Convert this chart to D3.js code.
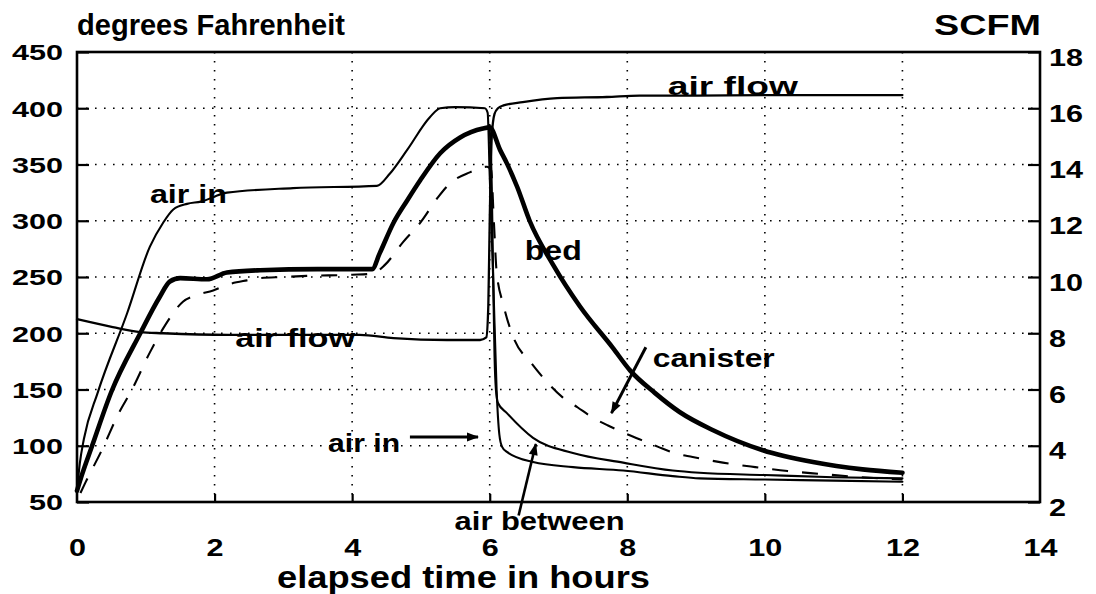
<!DOCTYPE html>
<html>
<head>
<meta charset="utf-8">
<script src="https://cdn.jsdelivr.net/npm/d3@7"></script>
<style>
  html, body { margin: 0; padding: 0; background: #fff; }
  svg { display: block; }
  text { font-family: "Liberation Sans", Arial, Helvetica, sans-serif; font-weight: bold; fill: #000; }
</style>
</head>
<body>
<svg id="chart" width="1096" height="594"></svg>
<script>
// Axis tick values
const hourTicks = [0, 2, 4, 6, 8, 10, 12, 14];
const tempTicks = [50, 100, 150, 200, 250, 300, 350, 400, 450];
const flowTicks = [2, 4, 6, 8, 10, 12, 14, 16, 18];

// Temperature traces, [elapsed hours, degrees F]
const airIn = [
  [0, 60], [0.04, 84], [0.1, 106], [0.3, 147], [0.73, 218], [1.06, 277], [1.25, 298],
  [1.4, 310], [1.6, 315], [1.8, 317], [2.18, 325], [3.14, 329], [4.36, 331], [4.55, 342],
  [4.8, 363], [5.13, 392], [5.28, 400], [5.5, 401], [5.93, 400], [5.97, 396],
  [6.0, 340], [6.05, 250], [6.1, 150], [6.14, 110], [6.18, 99], [6.25, 94.5],
  [6.63, 85.5], [7.21, 81], [7.94, 78], [8.66, 73], [9.05, 71], [10, 70], [11, 69], [12, 68]
];
const bed = [
  [0, 60], [0.06, 72], [0.22, 100], [0.5, 148], [0.92, 200], [1.2, 232], [1.35, 246],
  [1.5, 249], [1.89, 248], [2.18, 254], [2.66, 256], [3.5, 257], [4.29, 257],
  [4.4, 271], [4.6, 298], [4.8, 318], [4.99, 336], [5.28, 360], [5.57, 374],
  [5.9, 382], [6.0, 383], [6.15, 363], [6.25, 351], [6.4, 330], [6.58, 300],
  [6.92, 261], [7.31, 224], [7.79, 187], [8.04, 167], [8.4, 147], [8.76, 130], [9.24, 114],
  [9.97, 96], [10.7, 85.5], [11.42, 79], [12, 76]
];
const canister = [
  [0.05, 58], [0.12, 67], [0.36, 96], [0.6, 128], [0.8, 150], [1.06, 183], [1.28, 207],
  [1.54, 228], [1.74, 234], [1.98, 238], [2.18, 243], [2.47, 247], [2.66, 249],
  [3.0, 250], [3.34, 251], [4.0, 252], [4.3, 253], [4.48, 261], [4.74, 281],
  [5.0, 299], [5.25, 321], [5.42, 333], [5.71, 343], [5.96, 348], [6.02, 345],
  [6.06, 300], [6.1, 255], [6.2, 225], [6.34, 197], [6.61, 173], [6.77, 161],
  [7.06, 143], [7.28, 134], [7.5, 125], [7.72, 118], [7.97, 111], [8.21, 105],
  [8.45, 99], [8.66, 94], [8.95, 90], [9.39, 85], [9.86, 81], [10.33, 77.5],
  [10.8, 75], [11.3, 72.5], [12, 70]
];
const airBetween = [
  [6.0, 382], [6.03, 330], [6.05, 250], [6.07, 180], [6.09, 150], [6.12, 138],
  [6.25, 129], [6.63, 107], [7.21, 93.5], [7.94, 85], [8.66, 78], [9.05, 76],
  [10, 74], [11, 72], [12, 71]
];

// Air flow trace, [elapsed hours, SCFM]
const airFlow = [
  [0, 8.5], [0.52, 8.22], [0.92, 8.04], [1.25, 8.0], [2.2, 7.94], [4.11, 7.94],
  [4.6, 7.83], [5.38, 7.76], [5.86, 7.76], [5.95, 7.85], [5.98, 9], [6.0, 12],
  [6.03, 15], [6.07, 15.8], [6.12, 16.0], [6.2, 16.1], [6.48, 16.22], [6.98, 16.36],
  [7.7, 16.4], [8.18, 16.45], [9, 16.45], [10, 16.47], [11, 16.47], [12, 16.47]
];

const svg = d3.select("#chart");
const plotLeft = 77, plotRight = 1040, plotTop = 52, plotBottom = 502;

const x = d3.scaleLinear().domain([0, 14]).range([plotLeft, plotRight]);
const yT = d3.scaleLinear().domain([50, 450]).range([plotBottom, plotTop]);
const yF = d3.scaleLinear().domain([2, 18]).range([plotBottom, plotTop]);

// Dotted grid
const grid = svg.append("g")
  .attr("stroke", "#000").attr("stroke-width", 1.6)
  .attr("stroke-dasharray", "1.6,7.4").attr("fill", "none");
grid.selectAll("line.h").data(tempTicks.slice(1, -1)).join("line")
  .attr("class", "h")
  .attr("x1", plotLeft).attr("x2", plotRight)
  .attr("y1", d => yT(d)).attr("y2", d => yT(d));
grid.selectAll("line.v").data(hourTicks.slice(1, -1)).join("line")
  .attr("class", "v")
  .attr("x1", d => x(d)).attr("x2", d => x(d))
  .attr("y1", plotTop).attr("y2", plotBottom);

// Axes (ticks point inward, labels styled below)
const axL = svg.append("g").attr("transform", `translate(${plotLeft},0)`)
  .call(d3.axisLeft(yT).tickValues(tempTicks).tickSizeInner(-12).tickSizeOuter(0).tickPadding(14));
const axR = svg.append("g").attr("transform", `translate(${plotRight},0)`)
  .call(d3.axisRight(yF).tickValues(flowTicks).tickSizeInner(-12).tickSizeOuter(0).tickPadding(9));
const axB = svg.append("g").attr("transform", `translate(0,${plotBottom})`)
  .call(d3.axisBottom(x).tickValues(hourTicks).tickSizeInner(-8).tickSizeOuter(0).tickPadding(37));

[axL, axR, axB].forEach(g => {
  g.attr("font-family", null).attr("font-size", null);
  g.select(".domain").remove();
  g.selectAll(".tick line").attr("stroke", "#000").attr("stroke-width", 2.2);
  g.selectAll(".tick text")
    .style("font-size", "22px")
    .attr("lengthAdjust", "spacingAndGlyphs")
    .attr("textLength", function () { return this.textContent.length * 17; });
});
axL.selectAll(".tick text").attr("dy", "0.36em");
axR.selectAll(".tick text").style("font-size", "24px").attr("dy", "0.55em");
axB.selectAll(".tick text").style("font-size", "24px");
axB.selectAll(".tick").filter(d => d === 0 || d === 14).select("line").remove();

// Plot frame
svg.append("rect")
  .attr("x", plotLeft).attr("y", plotTop)
  .attr("width", plotRight - plotLeft).attr("height", plotBottom - plotTop)
  .attr("fill", "none").attr("stroke", "#000").attr("stroke-width", 2.6);

// Traces
const lineT = d3.line().x(d => x(d[0])).y(d => yT(d[1])).curve(d3.curveMonotoneX);
const lineF = d3.line().x(d => x(d[0])).y(d => yF(d[1])).curve(d3.curveMonotoneX);
const traces = svg.append("g").attr("fill", "none").attr("stroke", "#000")
  .attr("stroke-linejoin", "round").attr("stroke-linecap", "round");

traces.append("path").attr("d", lineF(airFlow)).attr("stroke-width", 2.3);
traces.append("path").attr("d", lineT(airIn)).attr("stroke-width", 2.1);
traces.append("path").attr("d", lineT(airBetween)).attr("stroke-width", 2.1);
traces.append("path").attr("d", lineT(canister)).attr("stroke-width", 2.1)
  .attr("stroke-dasharray", "16,14").attr("stroke-linecap", "butt");
traces.append("path").attr("d", lineT(bed)).attr("stroke-width", 4.6);

// Arrow heads
const defs = svg.append("defs");
defs.append("marker").attr("id", "head")
  .attr("viewBox", "0 -5 12 10").attr("refX", 11).attr("refY", 0)
  .attr("markerUnits", "userSpaceOnUse").attr("markerWidth", 13).attr("markerHeight", 10)
  .attr("orient", "auto")
  .append("path").attr("d", "M0,-4.5L12,0L0,4.5Z").attr("fill", "#000");

const arrows = [
  { from: [4.84, 107.8], to: [5.83, 107.8], w: 3 },
  { from: [6.42, 38], to: [6.67, 101.5], w: 2.6 },
  { from: [8.27, 187.5], to: [7.77, 129], w: 3 }
];
svg.append("g").selectAll("line").data(arrows).join("line")
  .attr("x1", d => x(d.from[0])).attr("y1", d => yT(d.from[1]))
  .attr("x2", d => x(d.to[0])).attr("y2", d => yT(d.to[1]))
  .attr("stroke", "#000").attr("stroke-width", d => d.w)
  .attr("marker-end", "url(#head)");

// Trace labels, placed in data coordinates
const labels = [
  { text: "air in", at: [1.06, 315.8], size: 26, len: 77 },
  { text: "air flow", at: [2.30, 187.8], size: 26, len: 120 },
  { text: "air flow", at: [8.59, 411.5], size: 26, len: 130 },
  { text: "bed", at: [6.51, 265], size: 28, len: 57 },
  { text: "canister", at: [8.37, 170], size: 25, len: 122 },
  { text: "air in", at: [3.65, 94.5], size: 26, len: 72 },
  { text: "air between", at: [5.49, 25.5], size: 26, len: 170 }
];
svg.append("g").selectAll("text").data(labels).join("text")
  .attr("x", d => x(d.at[0])).attr("y", d => yT(d.at[1]))
  .style("font-size", d => d.size + "px")
  .attr("textLength", d => d.len).attr("lengthAdjust", "spacingAndGlyphs")
  .text(d => d.text);

// Axis titles
svg.append("text").attr("x", 77).attr("y", 35)
  .style("font-size", "30px").attr("textLength", 268).attr("lengthAdjust", "spacingAndGlyphs")
  .text("degrees Fahrenheit");
svg.append("text").attr("x", 934).attr("y", 35)
  .style("font-size", "29px").attr("textLength", 107).attr("lengthAdjust", "spacingAndGlyphs")
  .text("SCFM");
svg.append("text").attr("x", 277).attr("y", 588)
  .style("font-size", "32px").attr("textLength", 373).attr("lengthAdjust", "spacingAndGlyphs")
  .text("elapsed time in hours");
</script>
</body>
</html>
